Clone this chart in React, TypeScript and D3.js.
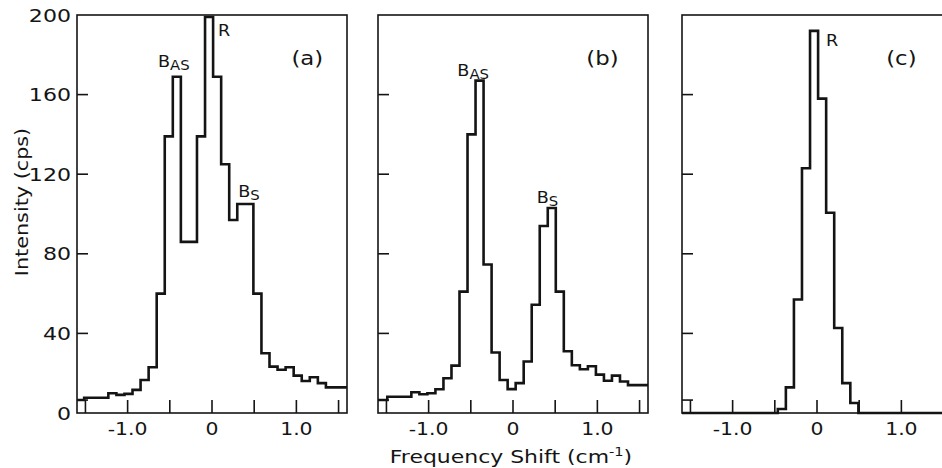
import React from 'react';
import * as d3 from 'd3';

// histogram counts (cps): first entry = partial bin at the left edge,
// then 30 bins, last entry = partial bin running to the right edge
const countsA = [6.5,
  7.7, 7.7, 7.7, 9.9, 9.1, 9.6, 11.6, 16.6, 23, 60,
  139, 169, 86, 86, 139, 199, 169, 125, 97, 105,
  105, 60, 30, 23.3, 21.7, 23, 18.8, 16.1, 18, 15,
  12.9];
const countsB = [6.5,
  8.2, 8.2, 8.2, 10.4, 9.4, 9.9, 11.9, 17.5, 23.8, 61,
  140, 167, 74.6, 30.4, 16.6, 12, 15, 25.9, 54.4, 94,
  103, 61, 31, 24, 22, 23.5, 19.3, 16.2, 18.8, 15.8,
  14];
const countsC = [0,
  0, 0, 0, 0, 0, 0, 0, 0, 0, 0,
  0, 2, 12.9, 57, 123, 192, 158, 100.6, 42.7, 15,
  5, 0, 0, 0, 0, 0, 0, 0, 0, 0,
  0];

const xDomain = [-1.6, 1.6];
const xTicks = [-1.5, -1.0, -0.5, 0, 0.5, 1.0, 1.5];
const xTickLabels = [
  { v: -1.0, text: '-1.0' },
  { v: 0, text: '0' },
  { v: 1.0, text: '1.0' },
];
const yTicks = [6.5, 40, 80, 120, 160];
const yTickLabels = [0, 40, 80, 120, 160, 200];

const FONT = 'DejaVu Sans';
const INK = '#141414';

const y = d3.scaleLinear().domain([0, 200]).range([413, 15]);

function Txt({ x, y, size, anchor = 'start', sx = 1.2, rotate = 0, baseline, children }: any) {
  return (
    <text
      transform={`translate(${x},${y}) rotate(${rotate}) scale(${sx},1)`}
      fontSize={size}
      fontFamily={FONT}
      textAnchor={anchor}
      dominantBaseline={baseline}
      fill={INK}
    >
      {children}
    </text>
  );
}

function Panel({ p }: any) {
  const x = d3.scaleLinear().domain(xDomain).range([p.left, p.left + 270]);
  const nBins = p.counts.length - 2;
  const edges = [xDomain[0], ...d3.range(nBins + 1).map(i => p.binStart + i * p.binWidth), xDomain[1]];
  const pts: [number, number][] = p.counts.map((c: number, i: number) => [edges[i], c]);
  pts.push([edges[edges.length - 1], p.counts[p.counts.length - 1]]);

  const line = d3.line<[number, number]>()
    .x(d => x(d[0]))
    .y(d => y(d[1]))
    .curve(d3.curveStepAfter);

  const x0 = x(xDomain[0]), x1 = x(xDomain[1]);

  return (
    <g>
      {/* frame */}
      <rect x={x0} y={y(200)} width={x1 - x0} height={y(0) - y(200)}
        fill="none" stroke={INK} strokeWidth={1.6} />
      {/* ticks */}
      {xTicks.map(t => (
        <line key={'x' + t} x1={x(t)} x2={x(t)} y1={y(0)} y2={y(0) - 13} stroke={INK} strokeWidth={1.6} />
      ))}
      {yTicks.map(t => (
        <line key={'y' + t} x1={x0} x2={x0 + 11} y1={y(t)} y2={y(t)} stroke={INK} strokeWidth={1.6} />
      ))}
      {xTickLabels.map(t => (
        <Txt key={'xl' + t.v} x={x(t.v)} y={435} size={17} anchor="middle">{t.text}</Txt>
      ))}
      {/* histogram */}
      <path d={line(pts) || ''} fill="none" stroke={INK} strokeWidth={2.6} strokeLinejoin="miter" />
      {/* annotations */}
      <Txt x={x(p.tag.x)} y={y(p.tag.y)} size={19} anchor="middle" sx={1.2}>{p.tag.text}</Txt>
      {p.peaks.map((pk: any, i: number) => (
        <Txt key={i} x={x(pk.x)} y={y(pk.y)} size={16} sx={1.1}>
          {pk.main}
          {pk.sub && <tspan fontSize={13.5} dy={3}>{pk.sub}</tspan>}
        </Txt>
      ))}
    </g>
  );
}

export default function App() {
  const panels = [
    {
      left: 77, binStart: -1.515, binWidth: 0.0955, counts: countsA,
      tag: { text: '(a)', x: 1.13, y: 175 },
      peaks: [
        { main: 'B', sub: 'AS', x: -0.64, y: 174 },
        { main: 'R', x: 0.07, y: 189.5 },
        { main: 'B', sub: 'S', x: 0.31, y: 108.5 },
      ],
    },
    {
      left: 378, binStart: -1.49, binWidth: 0.0951, counts: countsB,
      tag: { text: '(b)', x: 1.06, y: 175 },
      peaks: [
        { main: 'B', sub: 'AS', x: -0.66, y: 169.5 },
        { main: 'B', sub: 'S', x: 0.28, y: 105.5 },
      ],
    },
    {
      left: 682, binStart: -1.515, binWidth: 0.0955, counts: countsC,
      tag: { text: '(c)', x: 1.0, y: 175 },
      peaks: [
        { main: 'R', x: 0.107, y: 184.5 },
      ],
    },
  ];

  return (
    <div>
      <style>{'body{margin:0;background:#fff}'}</style>
      <svg width={942} height={468} style={{ display: 'block', background: '#fff' }}>
        {panels.map((p, i) => <Panel key={i} p={p} />)}
        {yTickLabels.map(t => (
          <Txt key={t} x={71} y={y(t) + 1} size={17} anchor="end" baseline="central" sx={1.3}>{t}</Txt>
        ))}
        <Txt x={28} y={202} size={17} anchor="middle" rotate={-90} sx={1.22}>Intensity (cps)</Txt>
        <Txt x={511} y={463} size={18} anchor="middle" sx={1.22}>
          Frequency Shift (cm<tspan fontSize={12} dy={-7}>-1</tspan><tspan dy={7}>)</tspan>
        </Txt>
      </svg>
    </div>
  );
}
